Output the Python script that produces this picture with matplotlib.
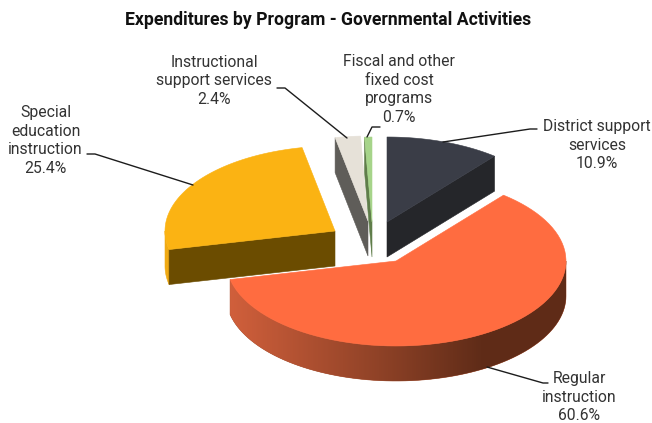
import matplotlib
matplotlib.use("Agg")
import matplotlib.pyplot as plt
from matplotlib.colors import LinearSegmentedColormap
from matplotlib.patches import Polygon
import numpy as np

title = "Expenditures by Program - Governmental Activities"
categories = ["District support\nservices", "Regular\ninstruction", "Special\neducation\ninstruction",
              "Instructional\nsupport services", "Fiscal and other\nfixed cost\nprograms"]
shares = [10.9, 60.6, 25.4, 2.4, 0.7]

top_colors = ["#3a3d47", "#ff6c40", "#fbb313", "#e6e1d8", "#a6d48a"]
side_colors = ["#25262a", "#a34b2a", "#6b4c00", "#5f5d59", "#5f7d4a"]
# apex of each exploded slice, in pixels
apexes = [(387, 222), (396, 261), (335, 231), (368, 221), (372, 222)]
# label centre and leader line for each slice, in pixels
label_pos = [(597, 145), (579, 397), (45.5, 140.5), (214, 81), (399, 89.5)]
leaders = [[(443, 142), (530, 129), (537, 129)],
           [(487, 367), (543, 383), (548, 383)],
           [(193, 185), (95, 154), (87, 154)],
           [(347, 138), (285, 88), (277, 88)],
           [(367, 137), (372, 127), (380, 127)]]

RX, RY, DEPTH = 170, 85, 35

plt.rcParams["font.family"] = ["Roboto", "DejaVu Sans"]
fig = plt.figure(figsize=(6.52, 4.23), dpi=100)
ax = fig.add_axes([0, 0, 1, 1])
ax.axis("off")

wall_cmap = LinearSegmentedColormap.from_list(
    "wall", [(0, "#d2603c"), (0.45, "#8f4227"), (0.75, "#602c18"), (1, "#5f2b17")])


def rim(apex, a0, a1, n=80):
    # points on the slice's outer edge, angles clockwise from 12 o'clock
    t = np.radians(np.linspace(a0, a1, n))
    return np.column_stack([apex[0] + RX * np.sin(t), apex[1] - RY * np.cos(t)])


def fill(pts, color, z):
    p = Polygon(pts, closed=True, fc=color, ec=color, lw=0.4, zorder=z)
    ax.add_patch(p)
    return p


edges = np.concatenate([[0], np.cumsum(shares)]) * 3.6
down = np.array([0, DEPTH])

for i in [1, 2, 0, 3, 4]:
    a0, a1 = edges[i], edges[i + 1]
    apex = np.array(apexes[i], dtype=float)
    z = 2 + i

    if i == 1:
        # front wall of the big slice, darkening towards the right
        seg = rim(apex, 90, a1)
        wall = fill(np.vstack([seg, (seg + down)[::-1]]), side_colors[i], z)
        im = ax.imshow(np.linspace(0, 1, 256)[None, :], cmap=wall_cmap, aspect="auto", zorder=z + 0.1,
                       extent=(apex[0] - RX, apex[0] + RX, apex[1] + RY + DEPTH, apex[1] - RY))
        im.set_clip_path(wall)
    elif i == 2:
        # outer wall on the left and the cut face towards the viewer
        seg = rim(apex, a0, 270)
        fill(np.vstack([seg, (seg + down)[::-1]]), "#f0aa14", z)
        p = rim(apex, a0, a0, 1)[0]
        fill([apex, p, p + down, apex + down], side_colors[i], z + 0.1)
    elif i == 0:
        p = rim(apex, a1, a1, 1)[0]
        fill([apex, p, p + down, apex + down], side_colors[i], z)
    else:
        p = rim(apex, a0, a0, 1)[0]
        fill([apex, p, p + down, apex + down], side_colors[i], z)

    fill(np.vstack([apex, rim(apex, a0, a1)]), top_colors[i], z + 0.2)

ax.set_xlim(0, 652)
ax.set_ylim(423, 0)

for i, line in enumerate(leaders):
    xs, ys = zip(*line)
    ax.plot(xs, ys, color="#1c1c1c", lw=1.0, zorder=10, solid_capstyle="round")
    ax.text(label_pos[i][0], label_pos[i][1], f"{categories[i]}\n{shares[i]}%", ha="center", va="center",
            fontsize=11.3, color="#333333", linespacing=1.32, zorder=11)

ax.text(328, 20, title, ha="center", va="center", fontsize=12.7, fontweight="bold", color="#111111")

fig.savefig("out.png", dpi=100, facecolor="white")
